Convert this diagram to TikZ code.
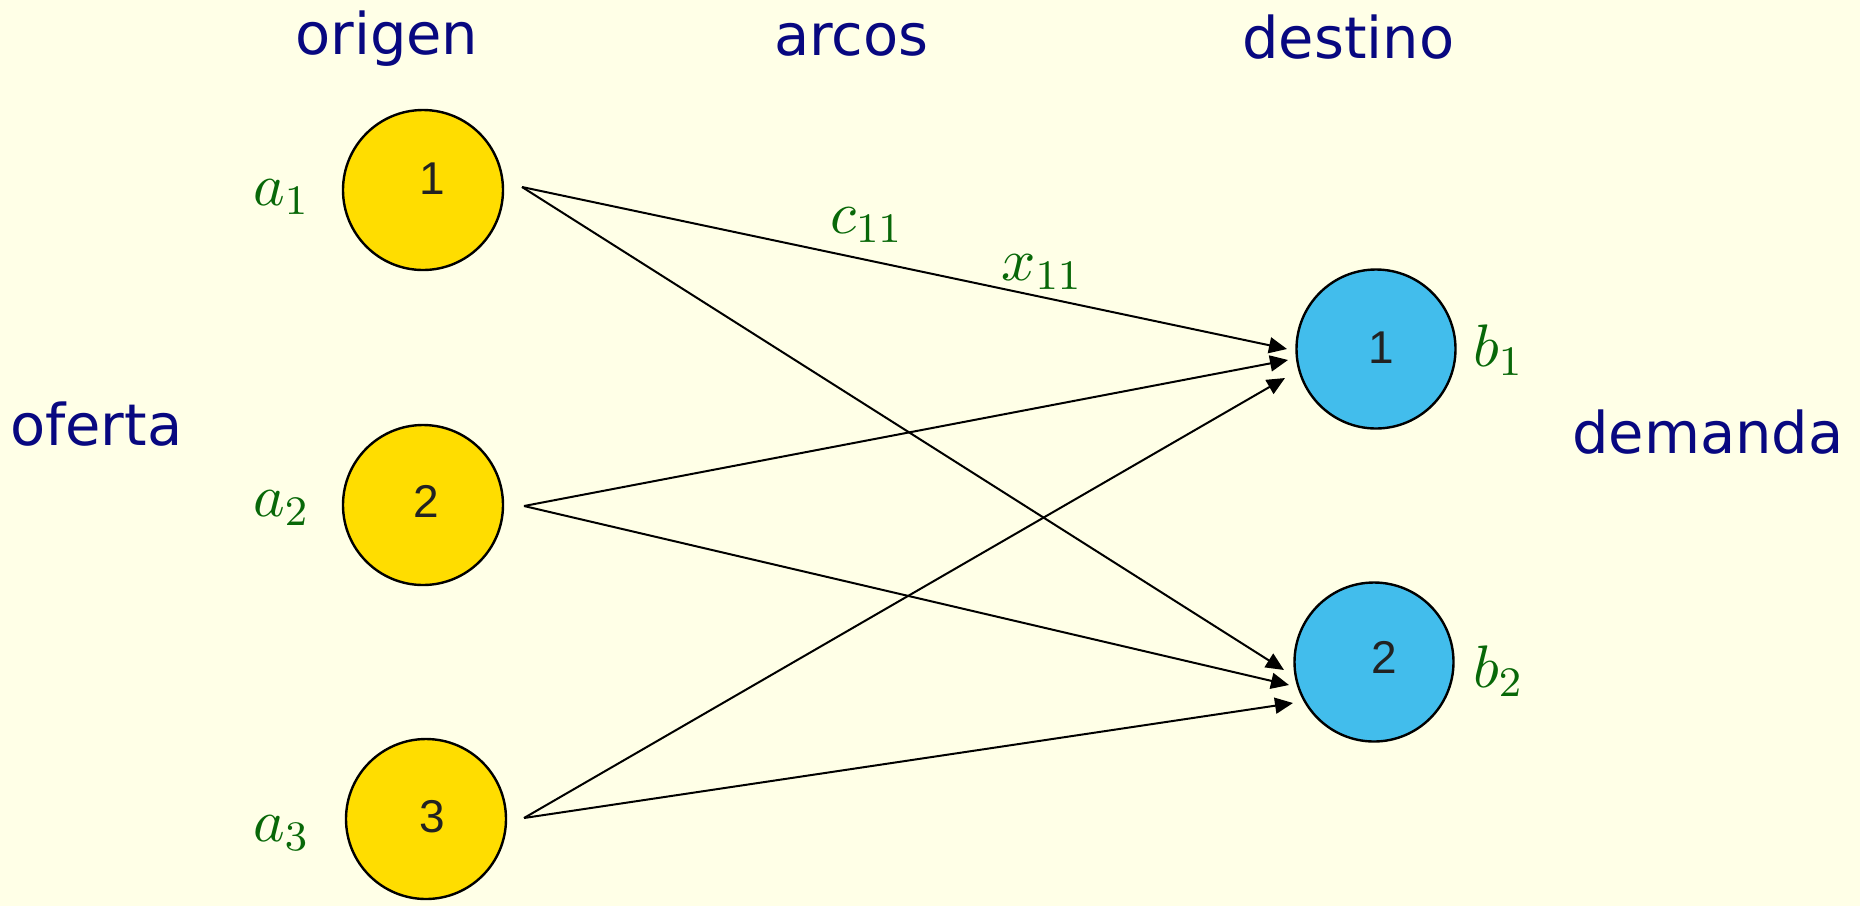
\RequirePackage{fix-cm}
\documentclass[tikz,border=0pt]{standalone}
\usepackage{fontspec}
\setsansfont{DejaVu Sans}
\newfontfamily\digitfont{Liberation Sans}
\usetikzlibrary{arrows.meta}

% scalable math letters and wider small-design subscript digits
\DeclareFontShape{OML}{cmm}{m}{it}{<->cmmi10}{}
\DeclareFontShape{OT1}{cmr}{m}{n}{<->cmr8}{}

\definecolor{slidebg}{RGB}{255,255,231}
\definecolor{titlenavy}{RGB}{8,8,128}
\definecolor{labelgreen}{RGB}{8,104,8}
\definecolor{srcfill}{RGB}{255,221,0}
\definecolor{dstfill}{RGB}{66,189,236}
\definecolor{digitgray}{RGB}{34,34,34}

\tikzset{
  heading/.style={anchor=base west, inner sep=0pt, text=titlenavy,
    font=\sffamily\fontsize{57.5}{66}\selectfont},
  mlabel/.style={anchor=base west, inner sep=0pt, text=labelgreen,
    font=\fontsize{60}{72}\selectfont},
  srcnode/.style={circle, draw=black, line width=2.4pt, fill=srcfill,
    minimum size=160pt, inner sep=0pt},
  dstnode/.style={circle, draw=black, line width=2.4pt, fill=dstfill,
    minimum size=159pt, inner sep=0pt},
  digit/.style={inner sep=0pt, text=digitgray,
    font=\digitfont\fontsize{46}{52}\selectfont},
  flow/.style={line width=2pt, draw=black,
    -{Triangle[length=18pt,width=16pt]}},
}

\begin{document}
\begin{tikzpicture}[x=1pt,y=-1pt]
  \fill[slidebg] (0,0) rectangle (1860,906);
  \useasboundingbox (0,0) rectangle (1860,906);

  % column and side headings
  \node[heading] (hor) at (295,54) {origen};
  \node[heading] (harc) at (774,55) {arcos};
  \node[heading] (hdst) at (1242,58) {destino};
  \node[heading] (hof) at (10,445) {oferta};
  \node[heading] (hdem) at (1572,453) {demanda};

  % supply nodes
  \node[srcnode] (o1) at (423,190) {};
  \node[srcnode] (o2) at (423,505) {};
  \node[srcnode] (o3) at (426,819) {};
  \node[digit] (n1) at (432,179) {1};
  \node[digit] (n2) at (426,501) {2};
  \node[digit] (n3) at (432,817) {3};

  % demand nodes
  \node[dstnode] (d1) at (1376,349) {};
  \node[dstnode] (d2) at (1374,662) {};
  \node[digit] (m1) at (1381,348) {1};
  \node[digit] (m2) at (1384,657) {2};

  % supplies and demands
  \node[mlabel] (la1) at (253,205) {$a_1$};
  \node[mlabel] (la2) at (253,516) {$a_2$};
  \node[mlabel] (la3) at (253,841) {$a_3$};
  \node[mlabel] (lb1) at (1473,366) {$b_1$};
  \node[mlabel] (lb2) at (1473,687) {$b_2$};

  % arc ports
  \coordinate (s1) at (522,187);
  \coordinate (s2) at (524,506);
  \coordinate (s3) at (524,818);
  \coordinate (t11) at (1287,349);
  \coordinate (t21) at (1288,360);
  \coordinate (t31) at (1285,378);
  \coordinate (t12) at (1284,670);
  \coordinate (t22) at (1289,685);
  \coordinate (t32) at (1293,703);

  % arcs
  \draw[flow] (s1) -- (t11);
  \draw[flow] (s1) -- (t12);
  \draw[flow] (s2) -- (t21);
  \draw[flow] (s2) -- (t22);
  \draw[flow] (s3) -- (t31);
  \draw[flow] (s3) -- (t32);

  % cost and flow of arc (1,1)
  \node[mlabel] (lc) at (830,233) {$c_{11}$};
  \node[mlabel] (lx) at (1001,280) {$x_{11}$};
\end{tikzpicture}
\end{document}
